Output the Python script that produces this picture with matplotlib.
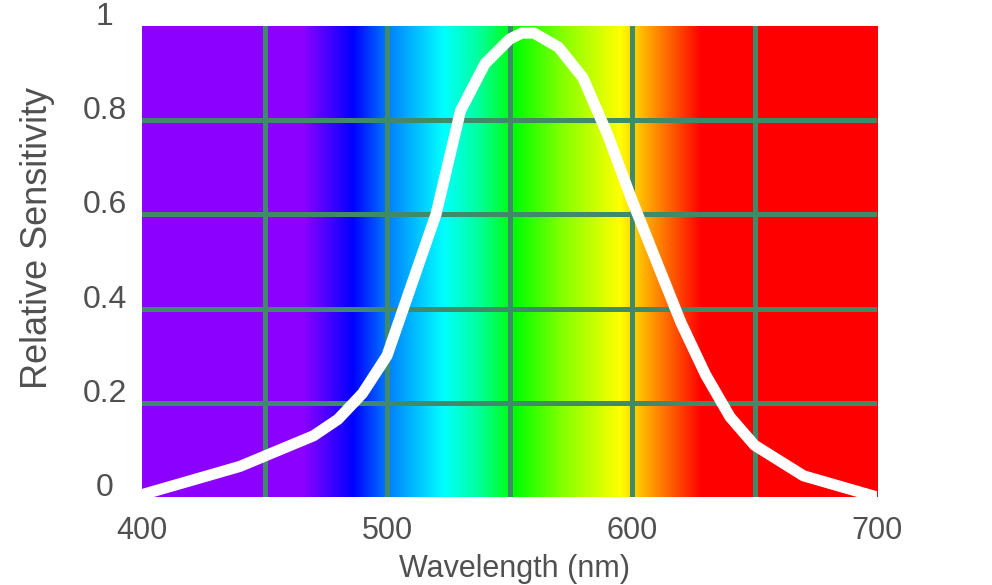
import numpy as np
import matplotlib
matplotlib.use("Agg")
import matplotlib.pyplot as plt
from matplotlib.colors import LinearSegmentedColormap
from matplotlib.transforms import ScaledTranslation

# ---- data ----
wavelength = [400, 440, 470, 480, 490, 500, 510, 520, 530, 540, 550, 555, 560,
              570, 580, 590, 600, 610, 620, 630, 640, 650, 670, 690, 700]
sensitivity = [0.005, 0.065, 0.13, 0.165, 0.22, 0.30, 0.45, 0.60, 0.82, 0.92,
               0.972, 0.985, 0.985, 0.955, 0.89, 0.77, 0.63, 0.50, 0.37, 0.26,
               0.17, 0.11, 0.045, 0.015, 0.0]

x_ticks = [400, 500, 600, 700]
x_ticklabels = ["400", "500", "600", "700"]
y_ticks = [0, 0.2, 0.4, 0.6, 0.8, 1.0]
y_ticklabels = ["0", "0.2", "0.4", "0.6", "0.8", "1"]
x_grid = [450, 500, 550, 600, 650]
y_grid = [0.2, 0.4, 0.6, 0.8]

# spectrum background colour stops (wavelength nm -> RGB)
spec_nm = [400, 466, 486, 501, 523, 538, 552, 571, 595, 607, 628, 700]
spec_rgb = [(140, 0, 255), (140, 0, 255), (0, 0, 255), (0, 130, 255),
            (0, 255, 255), (0, 255, 150), (0, 255, 0), (130, 255, 0),
            (255, 255, 0), (255, 160, 0), (255, 0, 0), (255, 0, 0)]

text_color = "#505050"
grid_color = "#3f8a68"

plt.rcParams['font.family'] = ['Liberation Sans', 'DejaVu Sans']

fig = plt.figure(figsize=(9.92, 5.85), dpi=100)
ax = fig.add_axes([142 / 992, 1 - 497 / 585, 735 / 992, 471 / 585])

xmin, xmax = 400, 700
stops = [((n - xmin) / (xmax - xmin), tuple(c / 255 for c in rgb))
         for n, rgb in zip(spec_nm, spec_rgb)]
cmap = LinearSegmentedColormap.from_list("spec", stops, N=1024)
grad = np.linspace(xmin, xmax, 1024)[None, :]
ax.imshow(grad, cmap=cmap, vmin=xmin, vmax=xmax, extent=[xmin, xmax, 0, 1],
          aspect="auto", interpolation="bilinear", zorder=0)

for gx in x_grid:
    ax.axvline(gx, color=grid_color, lw=3.6, zorder=1)
for gy in y_grid:
    ax.axhline(gy, color=grid_color, lw=3.6, zorder=1)

ax.plot(wavelength, sensitivity, color="white", lw=8, solid_joinstyle="round",
        zorder=3)

ax.set_xlim(xmin, xmax)
ax.set_ylim(0, 1)
ax.set_xticks(x_ticks)
ax.set_xticklabels(x_ticklabels)
ax.set_yticks(y_ticks)
ax.set_yticklabels(y_ticklabels)
ax.tick_params(axis="both", length=0, labelcolor=text_color)
ax.tick_params(axis="x", pad=14, labelsize=22)
ax.tick_params(axis="y", pad=27, labelsize=23)
shift = ScaledTranslation(0, 0.09, fig.dpi_scale_trans)
for lab in ax.get_yticklabels():
    lab.set_horizontalalignment("center")
    lab.set_verticalalignment("center")
    lab.set_transform(lab.get_transform() + shift)
for s in ax.spines.values():
    s.set_visible(False)

ax.set_xlabel("Wavelength (nm)", fontsize=22, color=text_color)
ax.set_ylabel("Relative Sensitivity", fontsize=26, color=text_color)
ax.xaxis.set_label_coords(0.507, -0.121)
ax.yaxis.set_label_coords(-0.118, 0.55)

fig.savefig("out.png", dpi=100, facecolor="white")
